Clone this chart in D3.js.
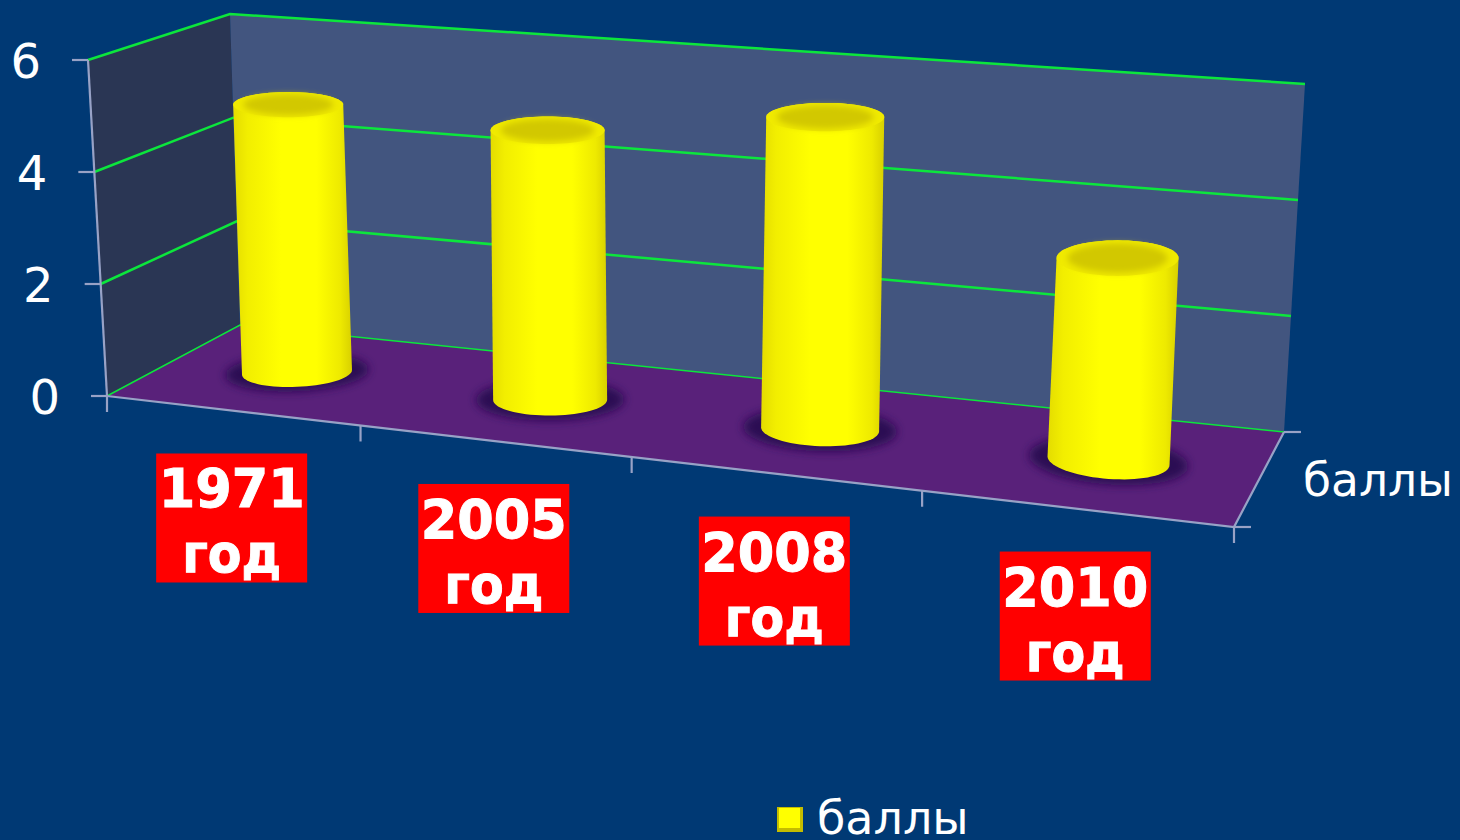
<!DOCTYPE html>
<html>
<head>
<meta charset="utf-8">
<script src="https://cdn.jsdelivr.net/npm/d3@7"></script>
<style>
  html, body { margin: 0; padding: 0; background: #003974; }
  svg { display: block; }
  text { font-family: "DejaVu Sans", sans-serif; }
</style>
</head>
<body>
<svg id="chart" width="1460" height="840"></svg>
<script>
const categories = ['1971', '2005', '2008', '2010'];
const categorySuffix = 'год';
const values = [4.9, 4.8, 5.4, 3.4];
const yTicks = [0, 2, 4, 6];
const seriesName = 'баллы';

const width = 1460, height = 840;

// corners of the 3d box as they land on screen: front-left, front-right, back-right, back-left
const floorQuad = [[107, 396], [1234, 527], [1284, 432], [240, 325]];
const roofQuad = [[88, 60], [1256, 148], [1305, 84], [230, 14]];

function quadMap(q) {
    const [[x0, y0], [x1, y1], [x2, y2], [x3, y3]] = q;
    const dx1 = x1 - x2, dx2 = x3 - x2, sx = x0 - x1 + x2 - x3;
    const dy1 = y1 - y2, dy2 = y3 - y2, sy = y0 - y1 + y2 - y3;
    const den = dx1 * dy2 - dx2 * dy1;
    const g = (sx * dy2 - dx2 * sy) / den;
    const h = (dx1 * sy - sx * dy1) / den;
    const a = x1 - x0 + g * x1, b = x3 - x0 + h * x3;
    const d = y1 - y0 + g * y1, e = y3 - y0 + h * y3;
    return (u, v) => {
        const w = g * u + h * v + 1;
        return [(a * u + b * v + x0) / w, (d * u + e * v + y0) / w];
    };
}
const floorMap = quadMap(floorQuad);
const roofMap = quadMap(roofQuad);

// scales
const x = d3.scaleBand().domain(categories).range([0, 1]);
const y = d3.scaleLinear().domain([0, 6]).range([0, 1]);
const radius = d3.scaleLinear().domain([0.125, 0.875]).range([55, 61]);

// u along the categories, v front to back, val in chart units
function project(u, v, val) {
    // the original's perspective is a bit weaker than the corners alone give
    const a = floorMap(u + 0.03 * u * (1 - u), v);
    const b = roofMap(u + 0.05 * u * (1 - u), v);
    const t = y(val);
    return [a[0] + (b[0] - a[0]) * t, a[1] + (b[1] - a[1]) * t];
}

const svg = d3.select('#chart');
svg.append('rect').attr('width', width).attr('height', height).attr('fill', '#003974');

const line = d3.line();
const closed = d3.line().curve(d3.curveLinearClosed);

const defs = svg.append('defs');
const grad = defs.append('linearGradient').attr('id', 'cyl');
[[0, '#e4dc00'], [0.12, '#f2ee00'], [0.4, '#ffff00'], [0.7, '#ffff00'], [0.9, '#eeea00'], [1, '#d8d000']]
    .forEach(s => grad.append('stop').attr('offset', s[0]).attr('stop-color', s[1]));
defs.append('filter').attr('id', 'soft').attr('x', '-30%').attr('y', '-60%').attr('width', '160%').attr('height', '220%')
    .append('feGaussianBlur').attr('stdDeviation', 5);
defs.append('filter').attr('id', 'soft2').attr('x', '-20%').attr('y', '-40%').attr('width', '140%').attr('height', '180%')
    .append('feGaussianBlur').attr('stdDeviation', 3);

// walls and floor
svg.append('path').attr('fill', '#2a3654')
    .attr('d', closed([project(0, 0, 0), project(0, 1, 0), project(0, 1, 6), project(0, 0, 6)]));
svg.append('path').attr('fill', '#42557f')
    .attr('d', closed([project(0, 1, 0), project(1, 1, 0), project(1, 1, 6), project(0, 1, 6)]));
svg.append('path').attr('fill', '#59217a')
    .attr('d', closed([project(0, 0, 0), project(1, 0, 0), project(1, 1, 0), project(0, 1, 0)]));

// gridlines
yTicks.forEach(t => {
    svg.append('path')
        .attr('fill', 'none')
        .attr('stroke', '#0ce63c')
        .attr('stroke-width', t === 0 ? 1.5 : 2.5)
        .attr('d', line([project(0, 0, t), project(0, 1, t), project(1, 1, t)]));
});

// axis lines
const axisColor = '#98a2c6';
const axis = svg.append('g').attr('fill', 'none').attr('stroke', axisColor).attr('stroke-width', 2.2);
axis.append('path').attr('d', line([project(0, 0, 6), project(0, 0, 0)]));
axis.append('path').attr('d', line([project(0, 0, 0), project(1, 0, 0), project(1, 1, 0)]));
yTicks.forEach(t => {
    const p = project(0, 0, t);
    axis.append('path').attr('d', line([p, [p[0] - 16, p[1]]]));
    svg.append('text')
        .attr('x', p[0] - 47).attr('y', p[1] + 18)
        .attr('text-anchor', 'end')
        .attr('font-size', 48)
        .attr('fill', '#fff')
        .text(t);
});
d3.range(categories.length + 1).forEach(i => {
    const p = project(i / categories.length, 0, 0);
    axis.append('path').attr('d', line([p, [p[0], p[1] + 16]]));
});
[project(1, 0, 0), project(1, 1, 0)].forEach(p => {
    axis.append('path').attr('d', line([p, [p[0] + 17, p[1]]]));
});

// cylinders: flat screen ellipses, their size follows the depth of the box at that height
const cv = 0.5, rvBase = 0.2, rvTop = 0.24;
function ring(cu, val, k, tilt, rv) {
    const c = project(cu, cv, val);
    const ry = Math.abs(project(cu, cv + rv, val)[1] - project(cu, cv - rv, val)[1]) / 2;
    const rx = radius(cu);
    return d3.range(0, 72).map(i => {
        const t = i / 72 * 2 * Math.PI;
        const dx = Math.cos(t) * rx * k;
        return [c[0] + dx, c[1] + dx * tilt + Math.sin(t) * ry * k];
    });
}

categories.forEach((c, i) => {
    const cu = x(c) + x.bandwidth() / 2;
    const baseTilt = (cu - 0.4) * 0.15;
    const g = svg.append('g').attr('class', 'cyl');
    g.append('path')
        .attr('fill', '#2a0f52')
        .attr('filter', 'url(#soft)')
        .attr('d', closed(ring(cu, 0, 1.3, baseTilt, rvBase)));
    const hull = d3.polygonHull(ring(cu, 0, 1, baseTilt, rvBase).concat(ring(cu, values[i], 1, 0, rvTop)));
    g.append('path').attr('fill', 'url(#cyl)').attr('d', closed(hull));
    g.append('path').attr('fill', '#f0ea00').attr('d', closed(ring(cu, values[i], 1, 0, rvTop)));
    g.append('path').attr('fill', '#d2c800').attr('filter', 'url(#soft2)').attr('d', closed(ring(cu, values[i], 0.82, 0, rvTop)));
});

// category labels
categories.forEach(c => {
    const p = project(x(c) + x.bandwidth() / 2, 0, 0);
    const g = svg.append('g').attr('transform', `translate(${p[0]},${p[1] + 43})`);
    g.append('rect').attr('x', -75.5).attr('y', 0).attr('width', 151).attr('height', 129).attr('fill', '#ff0000');
    const labels = g.append('g')
        .attr('text-anchor', 'middle').attr('font-size', 54).attr('font-weight', 'bold')
        .attr('fill', '#fff').attr('stroke', '#fff').attr('stroke-width', 1);
    labels.append('text').attr('y', 54)
        .attr('textLength', 146).attr('lengthAdjust', 'spacingAndGlyphs').text(c);
    labels.append('text').attr('y', 119)
        .attr('textLength', 99).attr('lengthAdjust', 'spacingAndGlyphs').text(categorySuffix);
});

// series name on the depth axis
svg.append('text').attr('x', 1303).attr('y', 496).attr('font-size', 45.5).attr('fill', '#fff').text(seriesName);

// legend
svg.append('rect').attr('x', 777).attr('y', 807).attr('width', 26).attr('height', 25).attr('fill', '#c4bc00');
svg.append('rect').attr('x', 779).attr('y', 808).attr('width', 21).attr('height', 20).attr('fill', '#ffff00');
svg.append('text').attr('x', 817).attr('y', 834).attr('font-size', 46).attr('fill', '#fff').text(seriesName);
</script>
</body>
</html>
